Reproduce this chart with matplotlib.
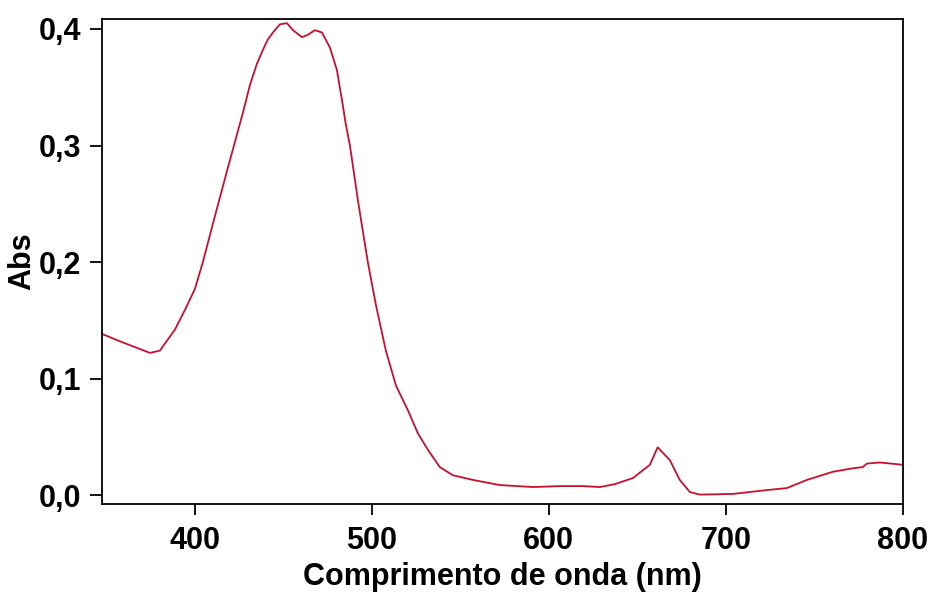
import matplotlib
matplotlib.use("Agg")
import matplotlib.pyplot as plt

# UV-Vis absorption spectrum (wavelength in nm, absorbance)
wavelength = [348.0, 357.6, 366.1, 374.6, 380.2, 388.7, 394.4, 400.0, 404.5, 410.7,
              418.1, 422.6, 427.1, 431.1, 435.0, 438.4, 441.2, 444.1, 448.0, 452.0,
              455.4, 460.5, 463.8, 467.8, 471.8, 476.3, 480.2, 483.1, 485.3, 487.6,
              492.1, 497.7, 502.3, 507.9, 513.6, 520.3, 526.0, 531.6, 538.4, 545.8,
              557.1, 572.3, 591.0, 606.2, 619.2, 628.8, 637.3, 647.5, 657.1, 661.5,
              668.4, 674.0, 679.7, 685.3, 704.0, 723.2, 734.5, 745.8, 760.5, 771.8,
              777.4, 779.7, 787.0, 800.0]
absorbance = [0.138, 0.132, 0.127, 0.122, 0.124, 0.142, 0.159, 0.177, 0.200, 0.236,
              0.278, 0.303, 0.328, 0.352, 0.370, 0.382, 0.391, 0.397, 0.404, 0.405,
              0.399, 0.393, 0.395, 0.399, 0.397, 0.384, 0.365, 0.339, 0.318, 0.300,
              0.253, 0.200, 0.163, 0.124, 0.094, 0.073, 0.053, 0.039, 0.024, 0.017,
              0.013, 0.0086, 0.0069, 0.0077, 0.0077, 0.0069, 0.0094, 0.0146, 0.026, 0.041,
              0.030, 0.013, 0.0026, 0.0004, 0.001, 0.0043, 0.006, 0.013, 0.020, 0.023,
              0.024, 0.027, 0.028, 0.026]

xticks = [400, 500, 600, 700, 800]
yticks = [0.0, 0.1, 0.2, 0.3, 0.4]
ytick_labels = ["0,0", "0,1", "0,2", "0,3", "0,4"]

plt.rcParams["font.family"] = ["Liberation Sans", "DejaVu Sans"]
plt.rcParams["font.weight"] = "bold"

fig = plt.figure(figsize=(9.3, 5.93), dpi=100)
ax = fig.add_axes([0.1097, 0.150, 0.861, 0.818])

ax.plot(wavelength, absorbance, color="#c8102e", linewidth=1.3)

ax.set_xlim(347.5, 800)
ax.set_ylim(-0.0077, 0.4086)
ax.set_xticks(xticks)
ax.set_xticklabels([str(t) for t in xticks], fontsize=22, fontweight="bold")
ax.set_yticks(yticks)
ax.set_yticklabels(ytick_labels, fontsize=22, fontweight="bold")
ax.tick_params(axis="x", direction="out", length=8, width=1.3, pad=8)
ax.tick_params(axis="y", direction="out", length=9, width=1.3, pad=6)

for s in ax.spines.values():
    s.set_linewidth(1.3)

ax.set_xlabel("Comprimento de onda (nm)", fontsize=22, fontweight="bold", labelpad=4)
ax.set_ylabel("Abs", fontsize=22, fontweight="bold", labelpad=1)

fig.savefig("out.png", dpi=100)
